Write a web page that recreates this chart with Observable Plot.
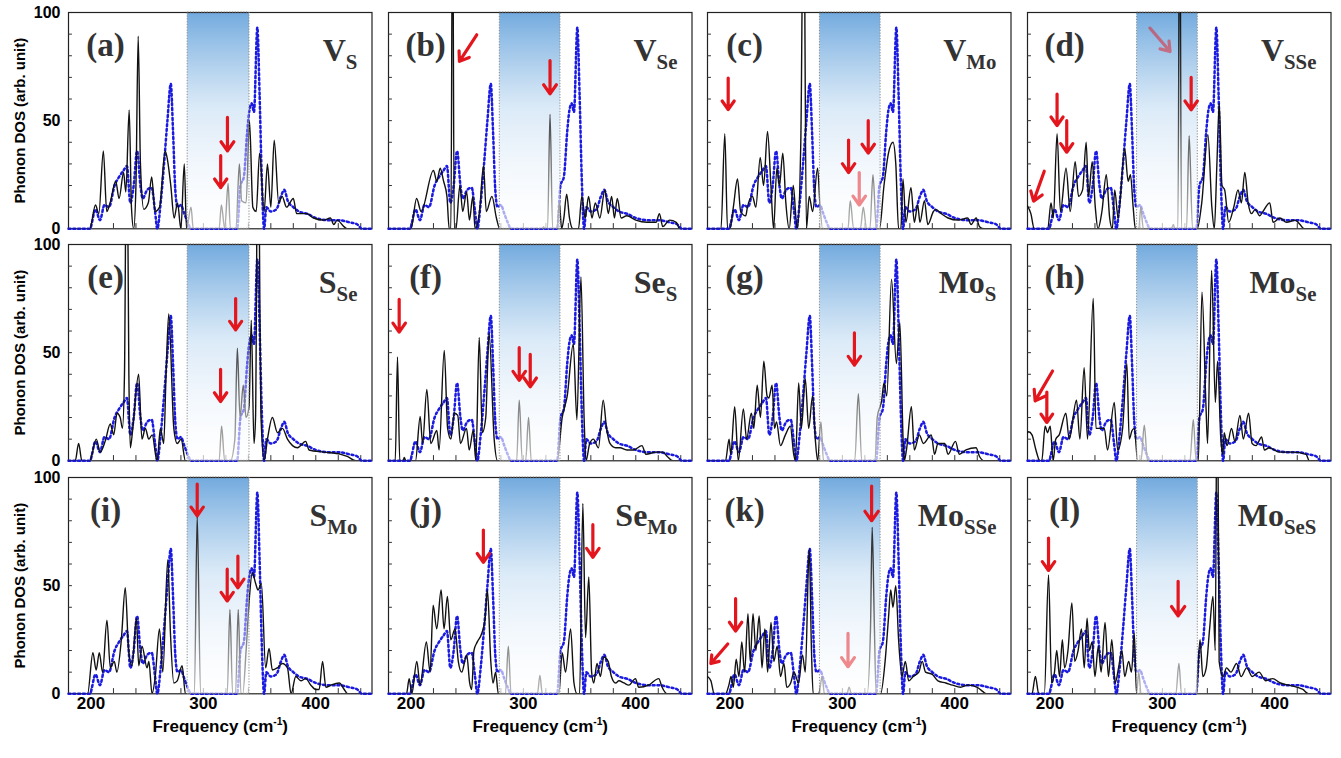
<!DOCTYPE html>
<html><head><meta charset="utf-8">
<script src="https://cdn.jsdelivr.net/npm/d3@7"></script>
<script src="https://cdn.jsdelivr.net/npm/@observablehq/plot@0.6"></script>
<style>
html,body{margin:0;padding:0;background:#fff;}
#chart{position:relative;width:1341px;height:758px;overflow:hidden;background:#fff;}
#chart > div{position:absolute;}
</style></head><body><div id="chart"></div>
<script>
// ---------- data (frequency cm^-1, phonon DOS arb. unit) ----------
const pristineDOS = [[180,0],[199,0],[204,9],[208,4],[212,11],[216,10],[221,20],[225,24],[229,27],[232,29],[235,12],[238,20],[241,36],[244,20],[246,14],[250,18],[254,19],[257,8],[259,0],[262,12],[265,30],[268,50],[271,67],[273,45],[275,18],[277,10],[280,11],[283,7],[286,3],[289,0],[330,0],[333,20],[336,24],[339,45],[341,55],[343,58],[345,54],[348,93],[350,62],[352,22],[354,0],[356,10],[360,8],[365,9],[369,15],[372,18],[375,13],[380,10],[385,8],[392,7],[400,5],[410,4],[420,4],[430,3],[437,2],[441,0],[450,0]];

const defectA = [[180,0],[199,0],[204,11],[207,7],[211,36],[214,8],[217,12],[222,22],[225,14],[229,26],[231,17],[234,55],[236,10],[238,0],[240,20],[242,89],[244,30],[247,9],[251,12],[254,24],[257,8],[261,10],[266,36],[268,32],[271,20],[274,5],[277,12],[280,0],[283,30],[285,0],[289,10],[291,0],[314,0],[316,11],[319,0],[322,21],[324,0],[329,0],[332,30],[334,13],[338,12],[341,50],[344,10],[347,8],[350,35],[354,8],[357,30],[360,10],[363,41],[367,12],[370,15],[374,10],[380,14],[383,7],[392,7],[398,5],[407,4],[413,5],[416,2],[419,4],[425,1],[428,0],[450,0]];
const defectB = [[180,0],[200,0],[205,14],[209,8],[220,27],[223,22],[226,28],[229,22],[232,15],[234,0],[235.5,0],[237,160],[238.5,0],[240,0],[243.5,20],[246,8],[249.5,17],[252,4],[255,15],[257,0],[261,8],[264.5,29],[267,8],[272,15],[276,5],[279,0],[317,0],[318,1],[319,0],[321.5,0],[323.7,53],[326,0],[330,0],[332,12],[334,0],[336,5],[338.5,16],[341,5],[344,0],[349,0],[352,15],[355,5],[358,15],[361,5],[364,12],[368,5],[372.5,18],[375.5,7],[378.5,15],[381,5],[383.5,14],[387,5],[392,6],[400,4],[410,3],[418,3],[421,7],[424,1],[430,4],[436,3],[439,0],[450,0]];
const defectC = [[180,0],[192,0],[195.4,44],[197.8,0],[200,0],[203,10],[206.7,23],[209.5,8],[214,6],[215.5,10],[220,15],[223,10],[226.9,33],[229.9,20],[233.4,45],[236.4,20],[238.8,0],[241.7,28],[244,20],[247,35],[249.7,12],[252.7,0],[256.3,20],[258.7,5],[260,0],[263,40],[265.5,170],[268,0],[270.5,15],[273.5,8],[277.9,28],[280.2,10],[282.4,0],[305,0],[307,13],[310,0],[316,0],[318.6,10],[321.5,0],[324.5,0],[327.2,25],[330.2,0],[333,0],[337,20],[341,35],[345,40],[347.5,30],[350,0],[352,0],[353.9,23],[356.5,3],[361,19],[364,3],[367,11],[369,3],[373,13],[376,2],[381,8],[383,9],[388,7],[394,5],[403,4],[411.5,5],[414.5,2],[419,5],[422,1],[426,0],[450,0]];
const defectD = [[180,10.5],[183,7],[186,0],[198,0],[200.9,12],[203,5],[206.3,44],[209.3,8],[214.3,28],[218,8],[222.4,31],[225.4,15],[229,18],[232.2,40],[234.3,15],[237.6,31],[240.3,10],[242.7,0],[246.2,8],[250.1,25],[253.1,5],[255.5,0],[257.6,18],[260.6,5],[266.5,37],[269.5,22],[271.6,25],[274,10],[276,0],[279,0],[280.8,10],[283,0],[308,0],[309.8,2],[311,0],[313.8,0],[315.4,170],[317,0],[319.5,0],[321.5,0],[323.8,43],[326.8,0],[331,0],[335,12],[340.5,43.5],[344,10],[346.2,0],[348.5,30],[350.6,58],[353,20],[355.4,18],[359,3],[363.5,10],[367.3,18],[370.3,12],[373.3,26],[376.3,12],[379.3,7],[382.6,9],[386.5,6],[389.5,8],[395.5,12],[398.5,3],[404.5,5],[410.5,3],[418,4],[422.5,2],[426,0],[450,0]];
const defectE = [[180,0],[186,0],[189,8],[191.9,0],[199,0],[204.7,10],[208.2,4],[212.6,9],[217.2,17],[220.2,12],[223.2,22],[226,20],[228,15],[229.8,40],[231.8,170],[233.7,40],[235,6],[237.2,15],[242.4,40],[245.3,10],[248.4,15],[251.4,10],[254.4,12],[258.8,0],[261.8,15],[264.7,8],[266.8,40],[269.2,68],[273.7,15],[276.7,8],[280.2,10],[284,0],[314,0],[316.2,16],[318.9,0],[324,0],[328,10],[330.2,52],[332.6,20],[335.5,35],[337.9,20],[340.6,25],[342.6,65],[345,8],[346.4,20],[348.5,170],[351.3,20],[354,0],[357,10],[361.4,20],[365.9,13],[370.3,15],[374.8,10],[379.3,7],[383.7,6],[391,9],[394,5],[407.4,4],[422.3,3],[428,2],[435.7,0],[450,0]];
const defectF = [[180,0],[186,0],[188,48],[190,0],[193,0],[194,1.5],[195.5,0],[204,0],[208.2,20.5],[210.3,8],[214.1,33],[217.6,8],[223,14],[225,5],[229.6,51],[232.6,15],[235.5,10],[238.5,22],[241.6,21],[244,8],[249.4,15],[251.8,5],[255.4,14],[257.7,0],[260.7,57],[263.5,13],[266.5,20],[269.5,59],[274,10],[277,0],[294,0],[296.3,28],[299,0],[302,0],[304.6,20],[307,0],[330,0],[334.5,20],[339,30],[344.4,54],[347.6,19],[351.2,85],[354,20],[355.7,0],[359,8],[362.3,10],[366.8,6],[371,28],[374,15],[377,8],[382,6],[386,6],[392,5],[398,5],[405.5,7],[409,3],[418,4],[424,4],[428,2],[433,0],[450,0]];
const defectG = [[180,0],[196,0],[199.2,10],[200.7,3],[204.2,25],[207.4,0],[211.9,24],[214.8,10],[219,22],[221.2,15],[224.2,35],[227.1,20],[230.1,46],[233,30],[234.5,29],[237.5,35],[239.6,15],[241.4,18],[244.9,7],[249.3,12],[253.7,16],[256.7,3],[258.2,0],[261.1,36],[263.5,15],[267,38],[270,15],[273.5,30],[275.9,10],[278,0],[280.9,18],[283.2,0],[311,0],[314.2,31],[317.2,0],[329,0],[331,20],[335,28],[337,36],[339.5,30],[343.7,84],[348,45],[351.1,64],[354,10],[355,0],[357,5],[361.4,25],[364,5],[368.5,12],[372,8],[379.1,12],[382,3],[385,8],[391,8],[394,3],[400.6,9],[404,3],[410,5],[418.9,6],[422,2],[426.3,0],[450,0]];
const defectH = [[180,13],[181,13.4],[184,12],[187.5,5],[191,0],[192.7,0],[195.7,16],[197.8,13],[200.2,16],[202.8,0],[205.1,10],[208.2,12],[214.1,22],[217.1,10],[223.6,28],[226.6,10],[230.4,43],[233.4,10],[238.5,75],[240.9,15],[245,15],[248.3,15],[251.2,5],[257.2,27],[260.2,5],[264.6,15],[268.4,45],[270.5,10],[273,14],[275,15],[278,0],[281,0],[283.9,16.5],[286.8,0],[324.5,0],[327.5,19],[330,0],[332,0],[335.2,78],[338.8,25],[340.2,8],[343.8,88],[347.1,27],[349.1,46],[352,10],[353.6,3],[355,13],[357.5,7],[361.5,15],[364.5,9],[369,21],[372,10],[376.7,22],[379.8,8],[383.3,7],[388.3,11],[390.7,5],[395.2,6],[404,4],[416,4],[427.8,3],[430.7,0],[450,0]];
const defectI = [[180,0],[197,0],[201.7,19],[204.6,11],[207.4,19],[210.3,10],[214.2,34],[217.2,12],[220.7,15],[223,10],[227,25],[230.5,49],[233.5,20],[236.5,13],[240.4,35],[242.5,13],[245.4,22],[249.9,12],[251.5,15],[254.3,0],[257.2,8],[260.9,30],[263.9,10],[268.3,62],[270.7,28],[273.7,5],[276.7,6],[281.1,13],[284,0],[292,0],[294.5,82],[297.5,0],[321.2,0],[323.6,39],[326,0],[328.6,0],[331,39],[333.4,0],[335,0],[338,20],[341,45],[343.5,56],[346.5,51],[348.6,48],[351.6,51],[355.4,12],[358.4,21],[361.4,11],[365.8,12],[370.3,14],[374.8,12],[378,0],[382.2,8],[386.7,6],[391,7],[395.6,4],[400,2],[403,2],[406,15],[409,3],[413.4,4],[420.9,5],[425.3,2],[428.3,0],[450,0]];
const defectJ = [[180,0],[196,0],[198.4,7],[200.7,0],[205.2,15],[208.1,4],[213.7,24],[217,10],[219.7,41],[222.9,30],[226.8,48],[229.4,30],[232.4,45],[235.4,25],[239.2,30],[242.1,15],[245.1,10],[249.6,18],[252.2,5],[254,2],[256,20],[259,24],[263,28],[266,35],[268,48],[271,15],[273,5],[275.3,10],[277.7,0],[284,0],[286.6,22],[289,0],[312.5,0],[314.7,8.5],[316.8,0],[331.6,0],[334.5,19],[337.5,10],[342,30],[345,5],[347.8,0],[350,0],[352.9,88],[355.3,26],[358.2,54],[360.7,10],[362.6,5],[365.5,14],[368.5,8],[371.5,17],[375.4,15],[378.3,8],[382,5],[385,6],[389.4,5],[393.8,4],[399.7,7],[402.6,3],[411.5,4],[420.4,7],[423.4,3],[427.8,0],[450,0]];
const defectK = [[180,8],[183,6],[186,0],[196,0],[199,4],[201,8],[203,3],[205.5,16],[208,8],[210.5,24],[213,10],[216,37],[218,15],[220.5,37],[223,20],[226,36],[228.5,12],[231,30],[233.5,10],[236.5,33],[239,15],[242,22],[245,8],[248,14],[250.5,3],[254,5],[257,10],[261,5],[264.5,18],[267,10],[270.5,67],[272.5,20],[274,0],[279,0],[282,8],[284,0],[304,0],[306,3],[308,0],[322,0],[325,30],[326.5,77],[328.5,30],[330,0],[334,0],[338,15],[341,35],[343,48],[345,40],[347.5,50],[350,25],[353,8],[356,15],[359,6],[363,8],[368,10],[371,15],[374,10],[380,9],[385,6],[392,5],[398,4],[405,3],[412,4],[420,3],[425,1],[428,0],[450,0]];
const defectL = [[180,0],[184,0],[187,8],[190,0],[195,0],[198.7,55],[201.5,5],[204,10],[206,20],[208.5,8],[211,25],[213,12],[216,20],[219.5,42],[222,15],[225,20],[228,30],[230.5,12],[233,35],[235,20],[237.5,24],[240,8],[243,22],[245.5,10],[249,33],[252,8],[255,25],[258,5],[261,12],[264,20],[266.5,8],[270,15],[272.5,10],[275,28],[277,0],[279,10],[281,0],[312,0],[314.7,14],[317,0],[330,0],[333.5,25],[336,8],[339,12],[342,30],[345,45],[347,20],[348.8,170],[350.5,15],[354,8],[357,12],[361,10],[366,14],[370,8],[375,12],[380,8],[386,10],[392,6],[398,7],[405,5],[412,4],[420,3],[425,2],[430,0],[450,0]];

// red arrows: [f_start, dos_start, f_tip, dos_tip]
const arrowsA = [[321.4,51.5,321.4,36],[315.4,33.8,315.4,19]];
const arrowsB = [[258.5,89.7,243.1,77.4],[323.7,77.8,323.7,62.4]];
const arrowsC = [[198.4,69.7,198.4,55.1],[305.5,41,305.5,26],[315,26,315,11],[323,50,323,35]];
const arrowsD = [[194.9,26.6,185.4,12.8],[206.3,62.3,206.3,47.7],[214.9,50,214.9,35.4],[288.9,92.8,306.8,82],[325.6,70,325.6,55]];
const arrowsE = [[328.7,75,328.7,60.5],[315.3,42.3,315.3,27.4]];
const arrowsF = [[189.5,74.6,189.5,59.5],[296.3,52.3,296.3,37.2],[306.1,49.2,306.1,34.2]];
const arrowsG = [[310.7,59.2,310.7,44.2]];
const arrowsH = [[202.3,41.5,186.8,27.7],[197.2,31.8,197.2,17.7]];
const arrowsI = [[294.5,97,294.5,82.3],[321.2,57.6,321.2,42.9],[330.7,63.7,330.7,49]];
const arrowsJ = [[264.4,75.7,264.4,60.8],[361.8,78.2,361.8,63.1]];
const arrowsK = [[198,23,183,14],[205,44,205,29],[305,28,305,12.5],[326,96,326,80]];
const arrowsL = [[198.7,72,198.7,57],[314,52,314,36]];
const fadedArrows = ["c2","d3","k2"];

const panelLetters = ["(a)","(b)","(c)","(d)","(e)","(f)","(g)","(h)","(i)","(j)","(k)","(l)"];
const panelSpecies = ["V_{S}","V_{Se}","V_{Mo}","V_{SSe}","S_{Se}","Se_{S}","Mo_{S}","Mo_{Se}","S_{Mo}","Se_{Mo}","Mo_{SSe}","Mo_{SeS}"];
const gapByColumn = [[286,341],[279,333],[280,334],[277.5,331.5]];
const xTickValues = [200,300,400];
const yTickValues = [0,50,100];
const xMinorTicks = [200,220,240,260,280,300,320,340,360,380,400,420,440];
const yMinorTicks = [10,20,30,40,50,60,70,80,90];
const xTitle = "Frequency (cm^{-1})";
const yTitle = "Phonon DOS (arb. unit)";

const defectSeries = [defectA,defectB,defectC,defectD,defectE,defectF,defectG,defectH,defectI,defectJ,defectK,defectL];
const arrowSets = [arrowsA,arrowsB,arrowsC,arrowsD,arrowsE,arrowsF,arrowsG,arrowsH,arrowsI,arrowsJ,arrowsK,arrowsL];

// ---------- layout ----------
const PW = 303.5, PH = 216.3, X0 = 68, Y0 = 12, SX = 319.5, SY = 232.3;
const SANS = "Liberation Sans, Arial, sans-serif";
const SERIF = "Liberation Serif, Times New Roman, serif";
const chart = document.getElementById("chart");
const ns = "http://www.w3.org/2000/svg";

function applyMarkup(svg) {
  svg.querySelectorAll("text").forEach(t => {
    const s = t.textContent;
    if (!/[_^]\{/.test(s)) return;
    const fs = parseFloat(getComputedStyle(t).fontSize) || 16;
    const parts = s.split(/([_^]\{[^}]*\})/);
    t.textContent = "";
    let shift = 0;
    for (const p of parts) {
      if (!p) continue;
      const ts = document.createElementNS(ns, "tspan");
      let target = 0;
      if (p.startsWith("_{")) { ts.textContent = p.slice(2, -1); ts.setAttribute("font-size", fs * 0.65); target = fs * 0.27; }
      else if (p.startsWith("^{")) { ts.textContent = p.slice(2, -1); ts.setAttribute("font-size", fs * 0.6); target = -fs * 0.42; }
      else ts.textContent = p;
      ts.setAttribute("dy", target - shift);
      shift = target;
      t.appendChild(ts);
    }
  });
}

for (let i = 0; i < 12; i++) {
  const col = i % 4, row = Math.floor(i / 4);
  const ml = col === 0 ? 68 : 4, mr = 6, mt = 10, mb = row === 2 ? 66 : 4;
  const gap = gapByColumn[col];
  const key = "abcdefghijkl"[i];
  const arrows = arrowSets[i];
  const normal = arrows.filter((a, j) => !fadedArrows.includes(key + j));
  const faded = arrows.filter((a, j) => fadedArrows.includes(key + j));
  const fx = d => d[0], fy = d => d[1];
  const marks = [
    Plot.rect([gap], {x1: d => d[0], x2: d => d[1], y1: 0, y2: 100, fill: `url(#bg${i})`}),
    Plot.frame({stroke: "#222", strokeWidth: 1.2}),
    Plot.ruleX(xMinorTicks, {y1: 0, y2: 2.4, stroke: "#333", strokeWidth: 1}),
    Plot.ruleY(yMinorTicks, {x1: 180, x2: 183.5, stroke: "#333", strokeWidth: 1}),
    Plot.line(pristineDOS, {x: fx, y: fy, stroke: "#1a1ae0", strokeWidth: 2.5, strokeDasharray: "2,2.8", curve: "monotone-x"}),
    Plot.line(defectSeries[i], {x: fx, y: fy, stroke: "#111", strokeWidth: 1.4, curve: "monotone-x", clip: true}),
    Plot.rect([gap], {x1: d => d[0], x2: d => d[1], y1: 0, y2: 100, fill: `url(#wh${i})`}),
    Plot.rect([gap], {x1: d => d[0], x2: d => d[1], y1: 0, y2: 100, fill: "none", stroke: "#8a8a8a", strokeWidth: 1, strokeDasharray: "1.2,1.6"}),
    Plot.arrow(normal, {x1: d => d[0], y1: d => d[1], x2: d => d[2], y2: d => d[3], stroke: "#e3161e", strokeWidth: 3.2, headLength: 9, headAngle: 70}),
    Plot.arrow(faded, {x1: d => d[0], y1: d => d[1], x2: d => d[2], y2: d => d[3], stroke: "#e3161e", strokeOpacity: 0.5, strokeWidth: 3.2, headLength: 9, headAngle: 70}),
    Plot.text([panelLetters[i]], {x: 213, y: 85, text: d => d, fontFamily: SERIF, fontWeight: "bold", fontSize: 33, fill: "#333", textAnchor: "middle"}),
    Plot.text([panelSpecies[i]], {x: 437, y: 82.5, text: d => d, fontFamily: SERIF, fontWeight: "bold", fontSize: 32, fill: "#333", textAnchor: "end"})
  ];
  if (col === 0) {
    marks.push(Plot.axisY({ticks: yTickValues, tickSize: 0, tickPadding: 8, fontSize: 16, fontWeight: "bold", fontFamily: SANS, label: null, fill: "#000"}));
    marks.push(Plot.text([yTitle], {x: 137.3, y: 50, text: d => d, rotate: -90, fontFamily: SANS, fontWeight: "bold", fontSize: 15, fill: "#000"}));
  }
  if (row === 2) {
    marks.push(Plot.axisX({ticks: xTickValues, tickSize: 0, tickPadding: 3, fontSize: 17, fontWeight: "bold", fontFamily: SANS, label: null, fill: "#000"}));
    marks.push(Plot.text([xTitle], {x: 315, y: -15.3, text: d => d, fontFamily: SANS, fontWeight: "bold", fontSize: 17, fill: "#000"}));
  }
  const svg = Plot.plot({
    width: PW + ml + mr, height: PH + mt + mb,
    marginLeft: ml, marginRight: mr, marginTop: mt, marginBottom: mb,
    x: {domain: [180, 450], axis: row === 2 ? undefined : null},
    y: {domain: [0, 100], axis: col === 0 ? undefined : null},
    style: {background: "transparent", overflow: "visible"},
    marks
  });
  const defs = d3.select(svg).insert("defs", ":first-child");
  const g1 = defs.append("linearGradient").attr("id", `bg${i}`).attr("x1", 0).attr("y1", 0).attr("x2", 0).attr("y2", 1);
  g1.append("stop").attr("offset", 0).attr("stop-color", "#72aade");
  g1.append("stop").attr("offset", 0.45).attr("stop-color", "#d2e5f6");
  g1.append("stop").attr("offset", 1).attr("stop-color", "#ffffff");
  const g2 = defs.append("linearGradient").attr("id", `wh${i}`).attr("x1", 0).attr("y1", 0).attr("x2", 0).attr("y2", 1);
  g2.append("stop").attr("offset", 0).attr("stop-color", "#fff").attr("stop-opacity", 0);
  g2.append("stop").attr("offset", 0.5).attr("stop-color", "#fff").attr("stop-opacity", 0.25);
  g2.append("stop").attr("offset", 1).attr("stop-color", "#fff").attr("stop-opacity", 0.7);
  const div = document.createElement("div");
  div.style.left = (X0 + col * SX - ml) + "px";
  div.style.top = (Y0 + row * SY - mt) + "px";
  div.appendChild(svg);
  chart.appendChild(div);
  applyMarkup(svg);
}
</script></body></html>
